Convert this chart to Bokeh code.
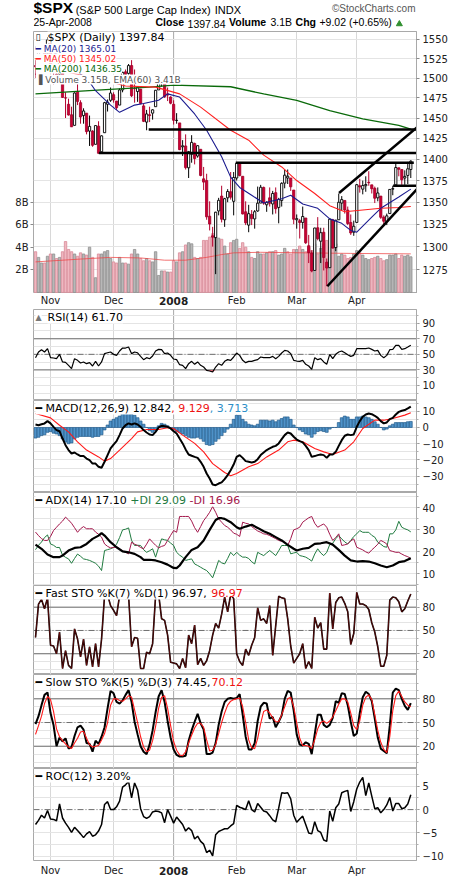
from bokeh.plotting import figure
from bokeh.models import (Range1d, LinearAxis, LogAxis, FixedTicker, Grid, Span, Label,
                          ColumnDataSource, LinearScale, BasicTickFormatter, CustomJSTickFormatter)
from bokeh.layouts import column
from bokeh.core.properties import value
from bokeh.embed import file_html
from bokeh.resources import INLINE

# ---------------- categories / ticks ----------------
month_ticks = [5, 26, 46, 67, 87, 107]
month_labels = ["Nov", "Dec", "2008", "Feb", "Mar", "Apr"]
price_ticks = [1275, 1300, 1325, 1350, 1375, 1400, 1425, 1450, 1475, 1500, 1525, 1550]
volume_ticks = [2, 4, 6, 8]

# ---------------- price data (Oct 25 2007 .. Apr 25 2008) ----------------
opens = [1516, 1522, 1536, 1540, 1532,
         1545, 1511, 1505, 1505, 1516, 1475, 1467, 1454, 1441, 1483, 1469, 1453, 1456, 1434, 1434, 1418, 1440, 1409, 1432, 1467, 1472,
         1479, 1471, 1466, 1485, 1508, 1506, 1516, 1487, 1483, 1486, 1465, 1445, 1454, 1456, 1464, 1485, 1495, 1495, 1480, 1476,
         1467, 1447, 1444, 1415, 1416, 1390, 1406, 1419, 1404, 1412, 1377, 1375, 1334, 1312, 1310, 1340, 1357, 1330, 1355, 1362, 1351,
         1378, 1395, 1380, 1339, 1324, 1336, 1331, 1340, 1349, 1367, 1347, 1355, 1348, 1361, 1344, 1352, 1372, 1378, 1378, 1364,
         1330, 1329, 1327, 1332, 1301, 1293, 1274, 1321, 1306, 1316, 1283, 1277, 1330, 1299, 1330, 1349, 1352, 1341, 1327, 1316,
         1327, 1369, 1365, 1369, 1373, 1370, 1366, 1355, 1357, 1333, 1328, 1337, 1365, 1370, 1390, 1388, 1378, 1381, 1388]
highs = [1523, 1536, 1544, 1540, 1553,
         1545, 1513, 1510, 1521, 1516, 1482, 1474, 1464, 1482, 1493, 1472, 1462, 1456, 1453, 1435, 1441, 1446, 1429, 1470, 1473, 1488,
         1482, 1471, 1487, 1508, 1511, 1518, 1523, 1511, 1489, 1486, 1468, 1460, 1464, 1461, 1485, 1497, 1499, 1495, 1488, 1477,
         1472, 1456, 1444, 1423, 1430, 1410, 1429, 1420, 1417, 1412, 1391, 1383, 1351, 1322, 1339, 1355, 1369, 1355, 1365, 1385, 1385,
         1396, 1396, 1380, 1351, 1347, 1341, 1341, 1368, 1370, 1368, 1351, 1367, 1363, 1367, 1355, 1373, 1388, 1388, 1378, 1364,
         1336, 1331, 1345, 1332, 1313, 1296, 1321, 1333, 1321, 1321, 1287, 1331, 1331, 1330, 1360, 1357, 1352, 1345, 1336, 1329,
         1371, 1377, 1375, 1380, 1386, 1370, 1368, 1367, 1357, 1335, 1337, 1365, 1369, 1395, 1390, 1388, 1387, 1397, 1399]
lows = [1500, 1520, 1536, 1530, 1529,
        1506, 1492, 1494, 1499, 1475, 1450, 1453, 1439, 1441, 1466, 1443, 1443, 1430, 1416, 1415, 1418, 1407, 1407, 1432, 1458, 1470,
        1469, 1460, 1466, 1482, 1501, 1504, 1476, 1469, 1470, 1467, 1445, 1435, 1445, 1448, 1464, 1485, 1489, 1475, 1471, 1467,
        1442, 1443, 1411, 1404, 1388, 1378, 1396, 1394, 1402, 1380, 1364, 1330, 1318, 1300, 1270, 1335, 1327, 1322, 1350, 1353, 1335,
        1375, 1380, 1336, 1324, 1316, 1324, 1320, 1339, 1349, 1347, 1339, 1345, 1336, 1337, 1326, 1345, 1366, 1371, 1363, 1325,
        1320, 1309, 1320, 1303, 1282, 1272, 1274, 1307, 1282, 1274, 1257, 1277, 1298, 1295, 1330, 1341, 1337, 1324, 1313, 1312,
        1327, 1361, 1359, 1362, 1369, 1360, 1349, 1351, 1331, 1324, 1324, 1337, 1358, 1370, 1380, 1370, 1370, 1371, 1378]
closes = [1514.4, 1535.3, 1541.0, 1531.0, 1549.4,
          1508.4, 1509.7, 1502.2, 1520.3, 1475.6, 1474.8, 1453.7, 1439.2, 1481.1, 1470.6, 1451.2, 1458.7, 1433.3, 1439.7, 1416.8, 1440.7, 1407.2, 1428.2, 1469.0, 1469.7, 1481.1,
          1472.4, 1462.8, 1485.0, 1507.3, 1504.7, 1516.0, 1477.7, 1486.6, 1488.4, 1468.0, 1445.9, 1455.0, 1453.0, 1460.1, 1484.5, 1496.5, 1497.7, 1476.3, 1478.5, 1468.4,
          1447.2, 1447.2, 1411.6, 1416.2, 1390.2, 1409.1, 1420.3, 1401.0, 1416.3, 1381.0, 1373.2, 1333.3, 1325.2, 1310.5, 1338.6, 1352.1, 1330.6, 1354.0, 1362.3, 1355.8, 1378.6,
          1395.4, 1380.8, 1336.6, 1326.5, 1336.9, 1331.3, 1339.1, 1348.9, 1367.2, 1348.9, 1350.0, 1348.8, 1360.0, 1342.5, 1353.1, 1371.8, 1381.3, 1380.0, 1367.7, 1330.6,
          1331.3, 1326.8, 1333.7, 1304.3, 1293.4, 1273.4, 1320.7, 1308.8, 1315.5, 1288.1, 1276.6, 1330.7, 1298.4, 1329.5, 1349.9, 1353.0, 1341.1, 1325.8, 1315.2, 1322.7,
          1370.2, 1367.5, 1369.3, 1370.4, 1372.5, 1365.5, 1354.5, 1360.6, 1332.8, 1328.3, 1334.4, 1364.7, 1365.6, 1390.3, 1388.2, 1375.9, 1379.9, 1388.8, 1397.8]
volume_b = [3.6, 3.1, 2.6, 2.6, 3.2,
            3.4, 3.4, 3.0, 3.1, 3.6, 4.5, 3.8, 3.6, 3.4, 3.2, 3.5, 3.4, 3.3, 4.0, 3.1, 1.3, 3.4, 3.4, 3.6, 3.7, 3.0,
            2.7, 2.6, 3.1, 2.6, 2.6, 2.5, 3.4, 3.8, 3.4, 3.0, 2.8, 3.0, 2.8, 2.7, 3.6, 1.5, 1.9, 1.9, 1.8, 1.8,
            2.8, 2.7, 3.5, 3.6, 4.2, 4.4, 4.3, 3.1, 3.0, 3.1, 4.6, 4.6, 4.9, 5.2, 4.9, 4.8, 4.7, 4.1, 3.4, 4.4, 4.6,
            4.7, 3.9, 4.4, 4.0, 3.6, 3.1, 3.0, 3.6, 3.4, 3.4, 3.5, 3.6, 3.6, 3.7, 3.3, 3.4, 3.9, 3.6, 3.4, 3.8,
            3.8, 4.1, 3.8, 3.6, 4.0, 3.7, 4.3, 3.4, 3.9, 4.3, 4.6, 4.1, 4.0, 4.3, 3.2, 3.4, 3.3, 3.0, 3.1, 3.4,
            3.7, 3.5, 3.3, 3.0, 2.9, 3.0, 3.1, 3.2, 3.0, 2.8, 2.9, 3.3, 3.3, 3.4, 3.0, 3.3, 3.2, 3.3, 3.15]

# overlays read at sample bars
vema_idx = [0, 15, 25, 35, 43, 50, 57, 62, 66, 75, 90, 105, 125]
vema_val = [2.7, 2.95, 3.1, 3.05, 2.85, 2.85, 3.1, 3.35, 3.5, 3.55, 3.5, 3.45, 3.41]
ma20_idx = [0, 5, 10, 15, 18, 20, 25, 28, 33, 36, 41, 44, 48, 53, 57, 62, 65, 68, 72, 76, 82, 85, 89, 94, 98, 102, 105, 107, 112, 115, 121, 125]
ma20_val = [1540, 1535, 1525, 1505, 1495, 1484, 1466, 1457, 1466, 1468, 1472, 1480, 1476, 1455, 1435, 1403, 1379, 1367, 1358, 1349, 1354, 1358, 1348, 1343, 1331, 1326, 1318, 1316, 1333, 1343, 1356, 1365.01]
ma50_idx = [0, 10, 20, 30, 40, 48, 55, 65, 71, 76, 82, 87, 93, 98, 103, 109, 115, 121, 125]
ma50_val = [1510, 1508, 1500, 1490, 1488.5, 1480, 1463.5, 1435, 1423, 1405, 1391, 1375, 1360, 1346, 1339, 1341, 1343, 1344, 1345.02]
ma200_idx = [0, 22, 38, 46, 65, 76, 87, 98, 109, 121, 125]
ma200_val = [1480, 1485, 1488.5, 1491, 1489, 1480, 1472, 1459, 1449, 1441, 1436.35]

# trend lines drawn on the price panel (bar index, price)
trend_x0 = [37.7, 21.1, 66.7, 101.1, 97.2, 119.1]
trend_y0 = [1436, 1407.5, 1396, 1360.5, 1257, 1369]
trend_x1 = [128.0, 130.7, 126.0, 127.5, 128.3, 128.3]
trend_y1 = [1436, 1407.5, 1396, 1440, 1369.6, 1369]

rsi_val = [45.7, 53, 56, 53, 57.3, 45.7, 45.3, 44.4, 50, 40.2,
           39.7, 35.9, 31.6, 44.4, 42.3, 38.9, 40.2, 38, 39.3, 35,
           41, 35, 40.2, 50.9, 52, 53, 50, 48.7, 54.3, 58.1,
           58.1, 59.4, 50.9, 53, 52, 47.4, 43.2, 45.7, 44.4, 47.9,
           54.3, 56.4, 56, 50.9, 51.7, 48.7, 44, 43.2, 36.7, 35.9,
           31.6, 38, 41, 37.2, 40.2, 35.9, 33.7, 29.5, 28.6, 27.3,
           33.7, 38, 35.9, 41, 43.2, 42.3, 46.6, 51.7, 48.7, 42.3,
           39.3, 41, 41, 42.3, 43.2, 46.6, 45.7, 45.7, 45.7, 47.4,
           44.4, 47.4, 51.7, 55.1, 54.3, 50.9, 42.3, 41.4, 41, 42.3,
           37.2, 35, 30.7, 45.7, 43.2, 44.4, 40.2, 37.2, 50, 44.4,
           50, 53, 54.3, 52, 49.6, 47.4, 48.7, 57.3, 57.3, 57.3,
           57.3, 58.1, 56.4, 54.3, 55.1, 48.7, 45.7, 48.7, 56, 56.4,
           61.6, 61.6, 56.4, 57.3, 59.4, 61.7]

macd_val = [1.8, 1.4, 2, 2.5, 3.9, 2.5, 0.4, -1.6, -2.3, -6.8,
            -10.9, -13.9, -16, -15.4, -16.6, -17.6, -17.6, -19.1, -20.1, -22.2,
            -22.2, -24.2, -24.8, -21.1, -17, -12.9, -10.5, -8.4, -4.7, -0.6,
            1.4, 2.5, 1.8, 2.5, 1.8, 0.4, -1.6, -3.1, -4.3, -4.7,
            -2.7, 0, 1, 0.8, 0.4, -0.6, -2.3, -3.7, -6.8, -9.8,
            -13.5, -16.6, -17.4, -18.1, -18.7, -21.1, -24.2, -28.3, -31.4, -35.1,
            -35.5, -34.5, -33.8, -31.8, -29.3, -26.3, -22.8, -18.1, -17, -18.7,
            -20.7, -21.1, -21.5, -21.1, -19.5, -17, -15.4, -13.9, -12.9, -11.9,
            -11.3, -9.8, -7.2, -4.7, -3.1, -3.7, -5.7, -7.4, -8.4, -9.2,
            -11.3, -13.9, -18.1, -17.6, -17, -16.6, -17, -18.7, -16.6, -16.6,
            -15, -11.3, -7.8, -5.1, -4.3, -4.7, -4.3, 0.4, 3.9, 6.6,
            8, 8.6, 8.2, 7.2, 5.9, 3.9, 2.5, 3.1, 5.1, 5.9,
            8, 9.6, 10.3, 10.7, 11.7, 12.84]
signal_idx = [0, 5, 8, 11, 14, 17, 21, 23, 25, 28, 32, 34, 37, 41, 44, 46, 49, 53, 56, 59, 63, 65, 67, 71, 74, 77, 81, 84, 86, 89, 93, 96, 99, 103, 106, 109, 113, 116, 119, 123, 125]
signal_val = [8.6, 5.9, 1.4, -2.7, -8.8, -13.9, -18.1, -20.7, -19.1, -13.9, -6.8, -2.7, -1.2, -1.2, -0.2, -0.6, -4.7, -9.8, -15, -22.2, -27.7, -29.7, -28.3, -24.2, -22.2, -18.1, -13.9, -8.8, -7.8, -8.8, -12.9, -15, -16.6, -13.9, -8.8, -0.6, 4.5, 4.5, 5.5, 7.6, 9.13]
hist_val = [-6.5, -6, -5, -4.5, -3, -2.5, -3.5, -4, -5, -7,
            -9, -10, -9.5, -7, -6, -5.5, -5.5, -5.5, -5.5, -6,
            -5.5, -5.5, -4.5, -1.5, 1.5, 4, 5, 6, 7, 8.5,
            9, 9, 8, 7.5, 6, 4, 2, 0, -2, -3,
            -2, 1, 2.5, 2, 1, -0.5, -1.5, -2.5, -3, -4,
            -5, -6, -6.5, -6.5, -6, -7, -8.5, -10.5, -11, -10.5,
            -8.5, -7, -5, -3, -1, 2, 5, 7.5, 7.5, 5,
            3.5, 2, 1.5, 1, 2, 4.5, 4.5, 4.5, 4, 4.5,
            3.5, 4.5, 5.5, 6.5, 6.5, 5, 1.5, 0, -1.5, -2.5,
            -4, -4.5, -6, -4, -2.5, -2, -2.5, -3, -1, 0,
            0, 3, 6, 7, 6.5, 5, 5, 6.5, 6.5, 7,
            6.5, 6, 5, 3.5, 2, 0, -1.5, -1, 1, 2,
            3, 3, 3, 3, 3.5, 3.71]

adx_idx = [0, 2, 4, 6, 8, 9, 11, 13, 15, 17, 19, 21, 22, 23, 25, 27, 29, 31, 33, 35, 36, 38, 40, 42, 44, 46, 47, 48, 50, 52, 54, 56, 58, 60, 61, 62, 63, 65, 67, 68, 70, 72, 74, 76, 78, 80, 82, 84, 86, 87, 89, 91, 93, 95, 97, 99, 101, 103, 105, 107, 109, 111, 113, 115, 117, 119, 121, 123, 125]
adx_val = [23.3, 21.4, 18.8, 17.6, 17.6, 18.3, 20.6, 21.8, 22.1, 23.6, 25.9, 27.4, 28.5, 27.4, 24.4, 22.1, 20.2, 19.8, 19.1, 17.6, 16.4, 16.4, 16.1, 15.3, 14.2, 12.7, 12.6, 13.8, 17.6, 20.9, 22.1, 25.2, 30, 34.5, 35.3, 35.3, 35, 33.5, 31.2, 30.5, 31.5, 32.3, 30.9, 29.4, 28.2, 26.7, 25.2, 23.2, 21.4, 20.6, 21.4, 21.8, 23.6, 23.9, 24.4, 23.3, 20.9, 18.3, 16.1, 15.6, 15.8, 15.6, 14.8, 13.8, 13, 13.8, 15.3, 15.8, 17.1]
pdi_val = [21, 23, 24.5, 26.5, 27.7, 23.6, 23, 22, 22, 18.5,
           17.5, 16.8, 14.8, 17, 19, 18, 16.8, 16.5, 16.1, 15.5,
           14.8, 13.5, 11.5, 20.6, 21, 21.4, 22, 23.5, 26.5, 30,
           30.3, 30.9, 25.2, 22.9, 23, 22.9, 21, 19.8, 20.5, 21.4,
           17.6, 22, 25.9, 25.5, 25.2, 24, 22.9, 19.8, 18.5, 17.6,
           16.1, 16.5, 16.8, 14.5, 13.8, 13, 12.2, 11.5, 10, 8.2,
           12, 16.1, 15, 14.5, 17, 19.8, 18.3, 19.8, 18.5, 17.6,
           17.6, 17, 15.5, 14.5, 19.8, 19, 18.3, 19.5, 20.6, 19.5,
           18.3, 20.5, 22.9, 22.9, 22.9, 19.1, 19.5, 19.8, 18.3, 18,
           17.6, 16.8, 15.8, 19, 21.4, 19.5, 18.3, 19.8, 23.3, 23.9,
           26, 27.4, 25.9, 24.5, 23.6, 25.2, 27, 28.2, 29.7, 28.9,
           28.9, 28.9, 27.5, 26.7, 24.4, 23.5, 22.4, 22.1, 28.2, 28.2,
           30, 33.9, 31.2, 30.5, 30, 29.09]
mdi_val = [29, 27.4, 26, 25.2, 25.2, 27, 29.7, 31.2, 32.7, 34,
           35.8, 34.5, 33, 31, 28.9, 30.5, 31.5, 30.5, 30.5, 30.5,
           29, 28, 26.7, 23.6, 22.5, 21.8, 22, 22.1, 21.4, 20.5,
           19.8, 19.1, 24.4, 23.5, 22.9, 22, 21.4, 23.5, 25.9, 24.4,
           23, 21.8, 22.5, 22.9, 25.2, 27.5, 29.7, 28.9, 36.1, 36.1,
           36.1, 36.1, 34, 31, 28.9, 31.5, 34.2, 36, 38, 40.6,
           38, 35, 33.5, 32, 31.2, 30, 28.5, 28, 27, 33.5,
           33, 32.7, 31.5, 30.5, 29.5, 28.9, 28.2, 28, 27.4, 26.7,
           26, 25.2, 24.8, 24.4, 22.9, 26, 30, 30.5, 31.2, 33.5,
           34.5, 35.5, 36.1, 33, 31.2, 32, 32.7, 31.2, 28, 25.2,
           26.5, 28.2, 22.9, 23.2, 23.6, 25, 25.9, 22.1, 21.5, 20.9,
           20, 19.4, 20.9, 22.1, 23.5, 25.2, 24.5, 23.6, 20.6, 20.2,
           19.8, 19.8, 19, 18.3, 17.8, 16.96]

fast_k = [41, 84, 90, 78, 92, 31, 30, 20, 48, 1,
          24, 5, 1, 52, 39, 16, 39, 5, 29, 3,
          33, 3, 39, 95, 96, 82, 76, 69, 95, 96,
          91, 95, 29, 41, 40, 1, 1, 22, 20, 33,
          95, 97, 65, 63, 44, 9, 8, 7, 1, 14,
          2, 44, 33, 57, 6, 14, 5, 11, 24, 44,
          59, 53, 71, 93, 74, 96, 91, 20, 10, 5,
          26, 18, 31, 41, 79, 63, 65, 59, 82, 18,
          56, 94, 92, 91, 65, 30, 8, 14, 20, 33,
          1, 10, 1, 67, 53, 60, 26, 26, 98, 52,
          86, 92, 93, 85, 74, 32, 46, 99, 84, 84,
          82, 77, 60, 48, 29, 4, 4, 18, 89, 93,
          92, 87, 74, 78, 88, 96.97]
slow_k = [48, 58, 72, 85, 88, 62, 47, 20, 31, 26,
          30, 17, 19, 33, 44, 46, 41, 24, 23, 13,
          27, 23, 32, 44, 68, 90, 87, 76, 74, 78,
          85, 91, 76, 51, 35, 20, 13, 10, 22, 40,
          63, 83, 91, 76, 52, 31, 16, 9, 7, 7,
          8, 27, 40, 51, 61, 49, 41, 10, 10, 12,
          24, 47, 64, 76, 80, 81, 80, 81, 86, 60,
          32, 16, 16, 24, 52, 70, 75, 74, 55, 57,
          44, 51, 59, 80, 90, 88, 65, 35, 22, 21,
          25, 23, 10, 35, 60, 60, 47, 44, 47, 56,
          77, 75, 87, 86, 72, 51, 33, 36, 62, 82,
          89, 86, 77, 55, 31, 17, 14, 11, 46, 88,
          93, 91, 80, 71, 66, 74.45]
slow_d = [35, 46, 58, 74, 83, 79, 64, 42, 32, 27,
          23, 19, 17, 24, 30, 38, 39, 30, 22, 19,
          20, 21, 28, 36, 50, 72, 80, 80, 78, 77,
          80, 84, 82, 66, 50, 32, 19, 13, 15, 27,
          45, 68, 82, 84, 68, 46, 26, 15, 9, 8,
          13, 24, 34, 43, 49, 49, 44, 28, 14, 15,
          22, 36, 50, 62, 72, 77, 79, 80, 81, 70,
          50, 28, 18, 17, 30, 49, 64, 66, 62, 56,
          51, 51, 60, 70, 80, 82, 70, 50, 30, 21,
          21, 20, 17, 28, 42, 50, 52, 49, 52, 57,
          65, 73, 80, 80, 76, 62, 46, 41, 52, 72,
          82, 85, 79, 60, 40, 25, 16, 12, 32, 65,
          84, 90, 83, 76, 72, 70.12]
roc_val = [-3.2, -2.3, -1.2, -1.8, -0.2, -2, -2.1, -2.4, 1.2, -1.8,
           -2.9, -3.8, -4.9, -3.8, -4.5, -5.2, -6, -5.2, -4.7, -5.7,
           -5.4, -4.6, -3.2, 1.1, 1.7, 0, 0, 0.6, 1.8, 4.8,
           5.3, 6, 2.5, 5.7, 4.2, 0.2, -1.5, -1.9, -1.5, -0.5,
           -0.3, -0.4, -0.7, -2.8, 0, -1.4, -2.9, -1.6, -2.4, -3.2,
           -4.6, -3.9, -4.5, -6.3, -5.7, -6.8, -7.4, -9.2, -8.7, -9.9,
           -5.4, -4.7, -4.4, -4.1, -4.1, -3.5, -3, 0.9, 0.5, 0.3,
           0, 1.9, 0, -0.5, 1.3, 0.5, -0.3, -0.5, -1.3, -2.2,
           -2.6, 0.3, 3.6, 3.5, 3.6, 2.3, -1.2, -2.7, -2, -1.4,
           -3.2, -5, -5.2, -2.6, -4.5, -4.9, -6.5, -6.8, -0.3, -2.5,
           0.4, 1.2, 3.6, 3.9, 4.1, -0.4, 1.7, 4.4, 5.9, 6.9,
           3, 5.7, 2.9, 0.2, 0.4, -0.7, 0, 1, 2.6, -0.3,
           1.3, 1.3, 0.2, 0.4, 1.2, 3.2]

# ---------------- layout constants ----------------
W, LB, RB = 460, 33, 44
FONT = "DejaVu Sans"
HFONT = "Liberation Sans"
GRID = "#e4e4e4"
DARK = "#6e6e6e"
idx = list(range(len(closes)))
xr = Range1d(-0.67, 126.9)

EM = {' ': .318, '$': .636, '%': .95, '(': .39, ')': .39, '+': .838, ',': .318, '-': .361, '.': .318,
      'A': .684, 'B': .686, 'C': .698, 'D': .77, 'E': .632, 'F': .575, 'I': .295, 'K': .656, 'M': .863,
      'O': .787, 'P': .603, 'R': .695, 'S': .635, 'T': .611, 'V': .684, 'X': .685, 'a': .613, 'e': .615,
      'i': .278, 'l': .278, 'm': .974, 'o': .612, 's': .521, 't': .392, 'u': .634, 'y': .592, '\u2501': .602}
for d in "0123456789":
    EM[d] = .636
AEM = {' ': .278, '.': .278, '(': .333, ')': .333, '+': .584, '%': .889, 'B': .667, '-': .333,
       '$': .556, 'S': .667, 'P': .667, 'X': .667, '&': .667, 'L': .556, 'a': .556, 'r': .333,
       'g': .556, 'e': .556, 'C': .722, 'p': .556, 'I': .278, 'n': .556, 'd': .556, 'x': .5}
for d in "0123456789":
    AEM[d] = .556
ABOLD = {'C': .722, 'l': .278, 'o': .611, 's': .556, 'e': .556, 'V': .667, 'u': .611, 'm': .889,
         'h': .611, 'g': .611, '$': .556, 'S': .667, 'P': .667, 'X': .667}


def tw(s, px):
    return sum(EM.get(c, .6) for c in s) * px


def aw(s, px, bold=False):
    tab = ABOLD if bold else AEM
    return sum(tab.get(c, .556) for c in s) * px


def panel(h, y0, y1, log=False, bottom=0):
    p = figure(width=W, height=h + bottom, x_range=xr, y_range=Range1d(y0, y1),
               y_axis_type="log" if log else "linear",
               x_axis_location=None, y_axis_location=None, title=None,
               toolbar_location=None, output_backend="svg",
               min_border_left=LB, min_border_right=RB, min_border_top=0, min_border_bottom=bottom,
               outline_line_color="#a9a9a9", background_fill_color="white", border_fill_color="white")
    p.grid.visible = False
    p.add_layout(Grid(dimension=0, ticker=FixedTicker(ticks=[t for t in month_ticks if t != 46]),
                      grid_line_color="#d8d8d8"))
    p.add_layout(Span(location=46, dimension="height", line_color="#a8a8a8", line_width=1, level="underlay"))
    return p


def hgrid(p, ticks):
    p.add_layout(Grid(dimension=1, ticker=FixedTicker(ticks=ticks), grid_line_color=GRID))


def right_axis(p, ticks, minor=None, log=False):
    cls = LogAxis if log else LinearAxis
    ax = cls(ticker=FixedTicker(ticks=ticks, minor_ticks=minor or []),
             formatter=BasicTickFormatter(use_scientific=False),
             axis_line_color="#a9a9a9", major_tick_line_color="#8a8a8a", major_tick_out=3, major_tick_in=0,
             minor_tick_line_color="#b0b0b0", minor_tick_out=2, minor_tick_in=0,
             major_label_text_font=FONT, major_label_text_font_size="10px",
             major_label_text_color="#202020", major_label_standoff=3)
    p.add_layout(ax, "right")


def lab(p, x, y, text, color="black", size="11px", style="normal", bg="white"):
    p.add_layout(Label(x=x, y=y, x_units="screen", y_units="screen", text=text, text_color=color,
                       text_font=FONT, text_font_size=size, text_font_style=style,
                       text_baseline="middle", background_fill_color=bg))


def legend_row(p, h, parts):
    x = 2
    for text, color in parts:
        lab(p, x, h - 7.5, text, color)
        x += tw(text, 11)


def level_lines(p, hi, mid, lo):
    for v in (hi, lo):
        p.add_layout(Span(location=v, dimension="width", line_color=DARK, line_width=1, level="underlay"))
    p.add_layout(Span(location=mid, dimension="width", line_color=DARK, line_width=1,
                      line_dash="6 2 1 2", level="underlay"))


def bare(h, xrange, yrange):
    s = figure(width=W, height=h, x_range=xrange, y_range=yrange, title=None,
               x_axis_location=None, y_axis_location=None, toolbar_location=None, output_backend="svg",
               min_border_left=LB, min_border_right=RB, min_border_top=0, min_border_bottom=0,
               outline_line_color=None, background_fill_color="white", border_fill_color="white")
    s.grid.visible = False
    return s


def xstrip(h, yc):
    s = bare(h, xr, Range1d(h, 0))
    plain = [k for k in range(len(month_ticks)) if month_labels[k] != "2008"]
    bold = [k for k in range(len(month_ticks)) if month_labels[k] == "2008"]
    s.text(x=[month_ticks[k] for k in plain], y=[yc] * len(plain), text=[month_labels[k] for k in plain],
           text_align="center", text_baseline="middle", text_font=value(FONT), text_font_size="10px",
           text_color="#202020")
    s.text(x=[month_ticks[k] for k in bold], y=[yc] * len(bold), text=[month_labels[k] for k in bold],
           text_align="center", text_baseline="middle", text_font=value(FONT), text_font_size="10.5px",
           text_font_style="bold", text_color="#202020")
    return s


# ---------------- header (data units = page pixels) ----------------
head = bare(31, Range1d(LB, W - RB), Range1d(31, 0))
hx = 33
head.text(x=[hx], y=[15.5], text=["$SPX"], text_font=value(HFONT), text_font_size="15.5px",
          text_font_style="bold", text_color="black")
hx += aw("$SPX", 15.5, True) + 2.5
head.text(x=[hx], y=[15], text=["(S&P 500 Large Cap Index)"], text_font=value(HFONT),
          text_font_size="11px", text_color="black")
hx += aw("(S&P 500 Large Cap Index)", 11) + 4
head.text(x=[hx], y=[15], text=["INDX"], text_font=value(HFONT), text_font_size="11px", text_color="black")
head.text(x=[415], y=[13], text=["\u00a9StockCharts.com"], text_font=value(HFONT), text_font_size="10px",
          text_color="#555555", text_align="right")
head.text(x=[33], y=[27], text=["25-Apr-2008"], text_font=value(HFONT), text_font_size="10.5px")
hx = 155
for text, bold in [("Close", True), ("1397.84", False), ("Volume", True), ("3.1B", False),
                   ("Chg", True), ("+9.02 (+0.65%)", False)]:
    head.text(x=[hx], y=[27], text=[text], text_font=value(HFONT), text_font_size="10.5px",
              text_font_style="bold" if bold else "normal", text_color="black")
    hx += aw(text, 10.5, bold) + 3.5
head.scatter(x=[hx + 4], y=[23.5], marker="triangle", size=6, fill_color="#2f8f2f", line_color="#2f8f2f")

# ---------------- main price panel ----------------
MH = 262
main = panel(MH, 1249.3, 1560.5, log=True)
main.extra_y_ranges = {"vol": Range1d(-0.097, 23.09)}
main.extra_y_scales = {"vol": LinearScale()}
hgrid(main, price_ticks)

prev = [opens[0]] + closes[:-1]
vfill = ["#efb7c0" if closes[i] < prev[i] else "#b8b8b8" for i in idx]
vline = ["#d98a98" if closes[i] < prev[i] else "#8f8f8f" for i in idx]
main.vbar(x=idx, width=0.8, bottom=0, top=volume_b, y_range_name="vol",
          fill_color=vfill, line_color=vline, line_width=0.8)
main.line(vema_idx, vema_val, y_range_name="vol", line_color="#ee4444", line_width=1, line_alpha=0.75)

up = [i for i in idx if closes[i] >= opens[i]]
dn = [i for i in idx if closes[i] < opens[i]]
src_up = ColumnDataSource(dict(x=up, o=[opens[i] for i in up], c=[closes[i] for i in up],
                               h=[highs[i] for i in up], l=[lows[i] for i in up]))
src_dn = ColumnDataSource(dict(x=dn, o=[opens[i] for i in dn], c=[closes[i] for i in dn],
                               h=[highs[i] for i in dn], l=[lows[i] for i in dn]))
main.segment(x0="x", y0="l", x1="x", y1="h", source=src_dn, line_color="#b3002d", line_width=1)
main.vbar(x="x", width=0.75, top="o", bottom="c", source=src_dn, fill_color="#cc0033",
          line_color="#a0002a", line_width=0.8)
main.segment(x0="x", y0="l", x1="x", y1="h", source=src_up, line_color="black", line_width=1)
main.vbar(x="x", width=0.75, top="c", bottom="o", source=src_up, fill_color="white",
          line_color="black", line_width=0.9)

main.line(ma200_idx, ma200_val, line_color="#0a6a0a", line_width=1.3)
main.line(ma50_idx, ma50_val, line_color="#ff2020", line_width=1.1)
main.line(ma20_idx, ma20_val, line_color="#1b1b8f", line_width=1.1)
main.segment(x0=trend_x0, y0=trend_y0, x1=trend_x1, y1=trend_y1, line_color="black", line_width=2.5)

right_axis(main, price_ticks, log=True)
vax = LinearAxis(y_range_name="vol", ticker=FixedTicker(ticks=volume_ticks),
                 formatter=CustomJSTickFormatter(code="return tick + 'B';"),
                 axis_line_color=None, major_tick_line_color="#8a8a8a", major_tick_out=3, major_tick_in=0,
                 minor_tick_line_color=None, major_label_text_font=FONT, major_label_text_font_size="10px",
                 major_label_text_color="#202020", major_label_standoff=2)
main.add_layout(vax, "left")

lab(main, 2, MH - 5.7, "\u25af", "black", "9px")
lab(main, 14, MH - 5.7, "$SPX (Daily) 1397.84", "black", "11px")
lab(main, 2, MH - 17.3, "\u2501 MA(20) 1365.01", "#1b1b8f", "9px")
lab(main, 2, MH - 27.3, "\u2501 MA(50) 1345.02", "#ff2020", "9px")
lab(main, 2, MH - 37.3, "\u2501 MA(200) 1436.35", "#0a6a0a", "9px")
lab(main, 2, MH - 48.0, "\u2590 Volume 3.15B, EMA(60) 3.41B", "#555555", "9px")

strip1 = xstrip(16, 7)

# ---------------- RSI ----------------
rsi = panel(91, -9.3, 107.6)
hgrid(rsi, list(range(0, 101, 10)))
level_lines(rsi, 70, 50, 30)
low_run = [i for i in idx if rsi_val[i] < 30]
if low_run:
    seg = list(range(low_run[0] - 1, low_run[-1] + 2))
    rsi.varea(x=seg, y1=[min(rsi_val[i], 30) for i in seg], y2=[30] * len(seg),
              fill_color="#e05060", fill_alpha=0.8)
rsi.line(idx, rsi_val, line_color="black", line_width=1.2)
right_axis(rsi, [10, 30, 50, 70, 90], minor=list(range(0, 101, 10)))
lab(rsi, 2, 91 - 7.5, "\u25b2", "#777777", "8px")
lab(rsi, 14, 91 - 7.5, "RSI(14) 61.70")

# ---------------- MACD ----------------
macd = panel(92, -40.0, 16.6)
hgrid(macd, list(range(-40, 16, 5)))
macd.vbar(x=idx, width=0.95, bottom=0, top=hist_val, fill_color="#4f92c8", line_color="#245c8c", line_width=0.7)
macd.line(signal_idx, signal_val, line_color="#ff1a1a", line_width=1.1)
macd.line(idx, macd_val, line_color="black", line_width=2)
right_axis(macd, [-30, -20, -10, 0, 10], minor=list(range(-40, 16, 5)))
legend_row(macd, 92, [("\u2501 MACD(12,26,9) 12.842", "black"), (", 9.129", "#ee1111"), (", 3.713", "#2f8fc8")])

# ---------------- ADX ----------------
adx = panel(93, 4.7, 47.0)
hgrid(adx, list(range(5, 46, 5)))
adx.line(idx, pdi_val, line_color="#1f7a3f", line_width=1)
adx.line(idx, mdi_val, line_color="#a3174b", line_width=1)
adx.line(adx_idx, adx_val, line_color="black", line_width=2.2)
right_axis(adx, [10, 20, 30, 40], minor=list(range(5, 46, 5)))
legend_row(adx, 93, [("\u2501 ADX(14) 17.10 ", "black"), ("+DI 29.09 ", "#1f7a3f"), ("-DI 16.96", "#a3174b")])

# ---------------- Fast STO ----------------
fsto = panel(89, -6.7, 107.9)
hgrid(fsto, list(range(0, 101, 10)))
level_lines(fsto, 80, 50, 20)
fsto.line(idx, fast_k, line_color="black", line_width=1.6)
fsto.line(idx, fast_k, line_color="#8a0f0f", line_width=0.6)
right_axis(fsto, [20, 50, 80], minor=list(range(0, 101, 10)))
legend_row(fsto, 89, [("\u2501 Fast STO %K(7) %D(1) 96.97, ", "black"), ("96.97", "#ee1111")])

# ---------------- Slow STO ----------------
ssto = panel(94, -8.2, 110.8)
hgrid(ssto, list(range(0, 101, 10)))
level_lines(ssto, 80, 50, 20)
ssto.line(idx, slow_k, line_color="black", line_width=2)
ssto.line(idx, slow_d, line_color="#ff1a1a", line_width=1.1)
right_axis(ssto, [20, 50, 80], minor=list(range(0, 101, 10)))
legend_row(ssto, 94, [("\u2501 Slow STO %K(5) %D(3) 74.45, ", "black"), ("70.12", "#ee1111")])

# ---------------- ROC ----------------
roc = panel(92, -10.9, 8.8, bottom=4)
hgrid(roc, [-10, -7.5, -5, -2.5, 2.5, 5, 7.5])
roc.add_layout(Span(location=0, dimension="width", line_color=DARK, line_width=1, line_dash="6 2 1 2",
                    level="underlay"))
roc.line(idx, roc_val, line_color="black", line_width=1.5)
right_axis(roc, [-10, -5, 0, 5], minor=[-10, -7.5, -5, -2.5, 0, 2.5, 5, 7.5])
legend_row(roc, 92, [("\u2501 ROC(12) 3.20%", "black")])

strip2 = xstrip(16, 6)

layout = column(head, main, strip1, rsi, macd, adx, fsto, ssto, roc, strip2, spacing=0)
open("out.html", "w").write(file_html(layout, INLINE))
